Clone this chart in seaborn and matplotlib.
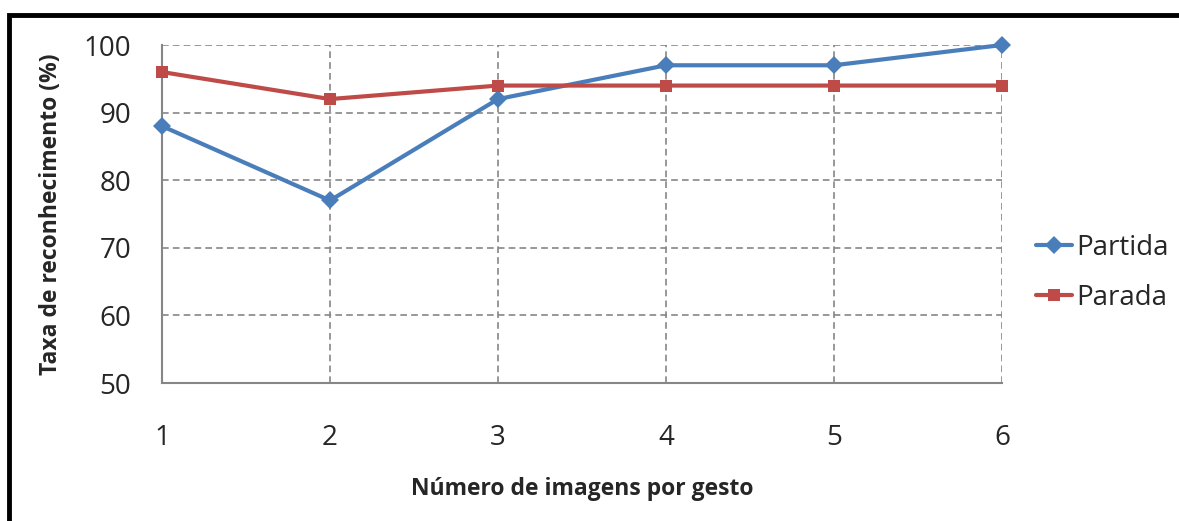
import matplotlib
matplotlib.use("Agg")
import matplotlib.pyplot as plt
import seaborn as sns
import pandas as pd
from matplotlib.patches import Rectangle

x_vals = [1, 2, 3, 4, 5, 6]
partida = [88, 77, 92, 97, 97, 100]
parada = [96, 92, 94, 94, 94, 94]
series_names = ["Partida", "Parada"]
x_label = "Número de imagens por gesto"
y_label = "Taxa de reconhecimento (%)"

df = pd.DataFrame({
    "x": x_vals * 2,
    "y": partida + parada,
    "serie": [series_names[0]] * 6 + [series_names[1]] * 6,
})

sns.set_style("white")
plt.rcParams['font.family'] = ['Open Sans', 'DejaVu Sans']

fig = plt.figure(figsize=(11.79, 5.21), dpi=100)
ax = fig.add_axes([162/1179, 1-383/521, (1002-162)/1179, (383-45)/521])

colors = {"Partida": "#4A7EBB", "Parada": "#BE4B48"}
sns.lineplot(data=df, x="x", y="y", hue="serie", style="serie",
             markers={"Partida": "D", "Parada": "s"}, dashes=False,
             palette=colors, linewidth=3, markersize=9, markeredgewidth=0,
             ax=ax, legend=True)
for ln in ax.lines:
    ln.set_clip_on(False)
    ln.set_zorder(5)

ax.set_xlim(1, 6)
ax.set_ylim(50, 100)
ax.set_xticks(x_vals)
ax.set_yticks([50, 60, 70, 80, 90, 100])
ax.grid(True, color="#868686", linestyle=(0, (4, 2.5)), linewidth=1.2)
for side in ["top", "right"]:
    ax.spines[side].set_visible(False)
for side in ["left", "bottom"]:
    ax.spines[side].set_color("#868686")
    ax.spines[side].set_linewidth(1.5)
ax.tick_params(axis="both", direction="out", length=7.2, width=1.5, color="#868686",
               labelsize=20)
ax.tick_params(axis="y", pad=15)
ax.tick_params(axis="x", pad=22)
ax.set_xlabel(x_label, fontsize=16.5, fontweight="bold", labelpad=18)
ax.set_ylabel(y_label, fontsize=16.5, fontweight="bold", labelpad=15)

handles, labels = ax.get_legend_handles_labels()
ax.get_legend().remove()
fig.legend(handles, labels, loc="center left", bbox_to_anchor=(1036/1179, 1-273/521),
           frameon=False, fontsize=20, handlelength=1.3, handletextpad=0.15,
           labelspacing=0.8, borderaxespad=0, borderpad=0)

fig.patches.append(Rectangle((9/1179, -0.05), 1.1, 1-15/521+0.05, transform=fig.transFigure,
                             fill=False, edgecolor="black", linewidth=3.5, figure=fig))

fig.savefig("out.png", dpi=100)
